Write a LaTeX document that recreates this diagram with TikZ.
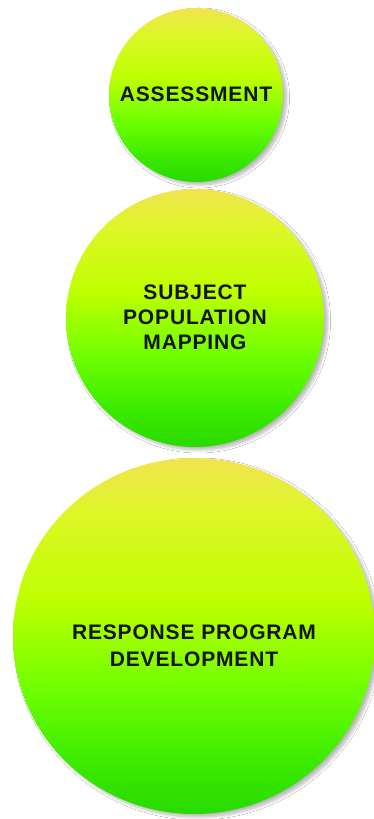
\documentclass[tikz,border=0pt]{standalone}
\usepackage{fontspec}
\newfontfamily\lbl[LetterSpace=4]{Liberation Sans}
\usetikzlibrary{shapes.geometric,shadows.blur}
\definecolor{ctop}{RGB}{240,228,80}
\definecolor{cup}{RGB}{222,246,40}
\definecolor{cmid}{RGB}{190,255,0}
\definecolor{clow}{RGB}{110,255,0}
\definecolor{cbot1}{RGB}{60,235,0}
\definecolor{cbot}{RGB}{40,218,0}
\definecolor{ink}{RGB}{17,20,10}
\pgfdeclareverticalshading{ballshade}{100bp}{color(0bp)=(cbot); color(25bp)=(cbot); color(32.5bp)=(cbot1); color(42.5bp)=(clow); color(55bp)=(cmid); color(67.5bp)=(cup); color(75bp)=(ctop); color(100bp)=(ctop)}
\tikzset{
  ball/.style={inner sep=0pt, draw=none, shading=ballshade,
    blur shadow={shadow xshift=3.5pt, shadow yshift=-3pt, shadow blur steps=10, shadow blur radius=3pt, shadow opacity=28}},
  lbltext/.style={font=\lbl\bfseries\fontsize{21}{25}\selectfont, text=ink, align=center, inner sep=0pt}
}
\begin{document}
\begin{tikzpicture}[x=1pt,y=1pt]
\path[fill=white] (0,0) rectangle (374,819);
\useasboundingbox (0,0) rectangle (374,819);
\node[ball, circle, minimum size=174pt] (c1) at (196,724) {};
\node[ball, circle, minimum size=258pt] (c2) at (195,501) {};
\node[ball, ellipse, minimum width=362pt, minimum height=356pt] (c3) at (194,183) {};
\node[lbltext] (t1) at ([yshift=1pt]c1.center) {ASSESSMENT};
\node[lbltext] (t2) at ([yshift=1pt]c2.center) {SUBJECT\\POPULATION\\MAPPING};
\node[lbltext, font=\lbl\bfseries\fontsize{21}{27}\selectfont] (t3) at ([yshift=-10pt]c3.center) {RESPONSE PROGRAM\\DEVELOPMENT};
\end{tikzpicture}
\end{document}
